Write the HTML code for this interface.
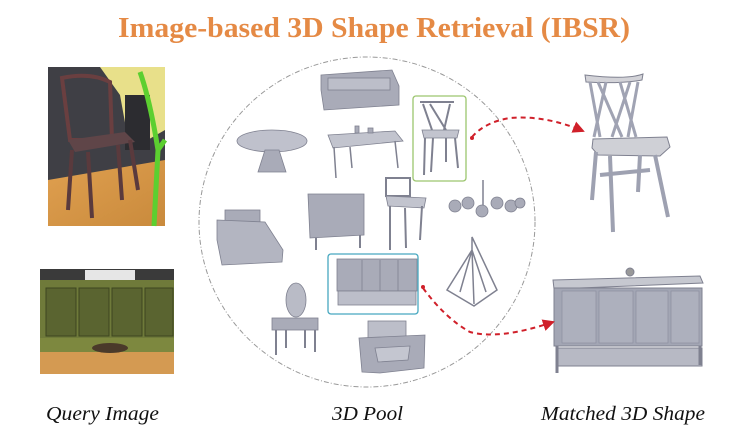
<!DOCTYPE html>
<html><head><meta charset="utf-8"><style>
html,body{margin:0;padding:0;background:#fff;width:750px;height:436px;overflow:hidden}
svg{display:block}
</style></head><body>
<svg width="750" height="436" viewBox="0 0 750 436">
<defs>
<linearGradient id="floor" x1="0" y1="0" x2="1" y2="1"><stop offset="0" stop-color="#e0a050"/><stop offset="1" stop-color="#c98a3c"/></linearGradient>
<marker id="ah" markerWidth="6" markerHeight="6" refX="5" refY="3" orient="auto"><path d="M0,0 L6,3 L0,6z" fill="#d0202a"/></marker>
</defs>
<text x="374" y="37" text-anchor="middle" font-family="Liberation Serif, serif" font-weight="bold" font-size="29" fill="#e58a45" textLength="512" lengthAdjust="spacingAndGlyphs">Image-based 3D Shape Retrieval (IBSR)</text>

<g>
<rect x="48" y="67" width="117" height="159" fill="#3f3f45"/>
<polygon points="48,180 165,160 165,226 48,226" fill="url(#floor)"/>
<polygon points="100,67 165,67 165,130 130,150 120,95" fill="#e8e08a"/>
<rect x="125" y="95" width="25" height="55" fill="#2c2c30"/>
<path d="M62,78 Q90,72 110,82 L112,140 L70,140 Z" fill="none" stroke="#6a3f40" stroke-width="4"/>
<polygon points="68,140 125,132 135,142 75,152" fill="#5f4548"/>
<path d="M72,150 L68,210 M118,145 L122,200 M88,152 L92,218 M130,140 L138,190" stroke="#5a3a3d" stroke-width="4"/>
<path d="M140,72 Q150,100 158,150 L154,226 M158,150 L165,140" stroke="#5ccf30" stroke-width="5" fill="none"/>
</g>
<g>
<rect x="40" y="269" width="134" height="105" fill="#3a3a3a"/>
<rect x="40" y="343" width="134" height="31" fill="#d49a52"/>
<rect x="85" y="270" width="50" height="12" fill="#e6e6e6"/>
<rect x="40" y="280" width="134" height="70" fill="#6f7a3a"/>
<g stroke="#3d4520" stroke-width="1">
<rect x="46" y="288" width="30" height="48" fill="#5a6430"/><rect x="79" y="288" width="30" height="48" fill="#5a6430"/><rect x="112" y="288" width="30" height="48" fill="#5a6430"/><rect x="145" y="288" width="28" height="48" fill="#5a6430"/>
</g>
<rect x="40" y="338" width="134" height="14" fill="#7d883f"/>
<ellipse cx="110" cy="348" rx="18" ry="5" fill="#4a3a2a"/>
</g>

<ellipse cx="367" cy="222" rx="168" ry="165" fill="none" stroke="#999" stroke-width="1" stroke-dasharray="5,2,1,2"/>

<g fill="#a9abb8" stroke="#7f8190" stroke-width="0.8">
<g><polygon points="321,75 392,70 399,86 399,105 324,110 321,90"/><rect x="328" y="78" width="62" height="12" fill="#bcbec9"/></g>
<g><ellipse cx="272" cy="141" rx="35" ry="11" fill="#bfc1cc"/><polygon points="265,150 279,150 286,172 258,172"/></g>
<g><polygon points="328,135 395,131 403,141 333,148" fill="#c2c4ce"/><path d="M334,147 L336,178 M395,141 L398,168 M350,147 L352,168" stroke-width="1.5"/><rect x="355" y="126" width="4" height="7"/><rect x="368" y="128" width="5" height="5"/></g>
<g><path d="M420,102 L454,102 M423,104 L432,130 M450,104 L444,130 M430,104 L446,130" fill="none" stroke-width="2"/><polygon points="422,130 459,130 457,138 424,138" fill="#c2c4ce"/><path d="M425,138 L424,175 M455,138 L458,168 M433,138 L431,172 M446,138 L446,162" stroke-width="2"/></g>
<g><rect x="225" y="210" width="35" height="12"/><polygon points="217,220 265,222 283,250 282,262 222,265 217,240" fill="#b3b5c1"/></g>
<g><polygon points="308,194 364,194 364,235 310,238"/><path d="M316,238 L316,250 M360,235 L360,248" stroke-width="2"/></g>
<g><rect x="386" y="178" width="24" height="18" fill="none" stroke-width="2"/><polygon points="386,196 426,198 424,208 388,206" fill="#c2c4ce"/><path d="M390,206 L390,250 M422,206 L420,240 M405,208 L406,248" stroke-width="2"/></g>
<g><path d="M483,180 L483,205" stroke-width="1.5"/><circle cx="455" cy="206" r="6"/><circle cx="468" cy="203" r="6"/><circle cx="482" cy="211" r="6"/><circle cx="497" cy="203" r="6"/><circle cx="511" cy="206" r="6"/><circle cx="520" cy="203" r="5"/></g>
<g fill="none"><path d="M472,237 L472,250 L447,290 L474,306 L497,290 Z M472,250 L460,292 M472,250 L486,292 M472,250 L474,304" stroke-width="1.5"/></g>
<g><rect x="337" y="259" width="80" height="32"/><rect x="338" y="291" width="78" height="14" fill="#bcbec9"/><path d="M362,260 L362,291 M380,260 L380,291 M398,260 L398,291" stroke-width="0.8"/></g>
<g><ellipse cx="296" cy="300" rx="10" ry="17" fill="#b9bbc6"/><rect x="272" y="318" width="46" height="12"/><path d="M276,330 L276,355 M315,330 L315,352 M286,330 L286,348 M305,330 L305,348" stroke-width="2"/></g>
<g><rect x="368" y="321" width="38" height="26" fill="#bcbec9"/><polygon points="359,338 425,335 424,368 380,373 362,372"/><polygon points="375,348 410,346 408,360 378,362" fill="#c4c6d0"/></g>
</g>

<rect x="413" y="96" width="53" height="85" rx="3" fill="none" stroke="#9cc56e" stroke-width="1.3"/>
<rect x="328" y="254" width="90" height="60" rx="3" fill="none" stroke="#47a8c0" stroke-width="1.3"/>

<g stroke="#7f8190" stroke-width="1" fill="#a9abb8">
<path d="M585,75 Q627,80 643,74 L642,80 Q620,84 586,82 Z" fill="#d3d3d8"/>
<path d="M590,82 L600,137 M598,82 L622,137 M606,82 L594,137 M620,82 L636,137 M630,82 L612,137 M638,82 L628,137" stroke="#a0a3b3" stroke-width="3" fill="none"/>
<polygon points="593,139 667,137 670,147 660,156 598,155 592,148" fill="#cfd0d6"/>
<path d="M610,156 L613,232 M655,155 L668,217 M596,152 L592,200 M640,155 L638,192 M600,175 L650,170" stroke="#9ea1b1" stroke-width="4" fill="none"/>
</g>
<g stroke="#7f8190" stroke-width="1">
<polygon points="553,280 700,276 703,283 554,289" fill="#c6c8d0"/>
<rect x="554" y="288" width="148" height="58" fill="#a3a6b4"/>
<g stroke="#8c8fa0" stroke-width="0.7"><rect x="562" y="291" width="34" height="52" fill="#adb0bd"/><rect x="599" y="291" width="34" height="52" fill="#adb0bd"/><rect x="636" y="291" width="32" height="52" fill="#adb0bd"/><rect x="671" y="291" width="28" height="52" fill="#adb0bd"/></g>
<rect x="556" y="348" width="146" height="18" fill="#b7b9c4"/>
<path d="M557,346 L557,373 M700,346 L700,365" stroke-width="3"/>
<circle cx="630" cy="272" r="4" fill="#999"/>
</g>

<path d="M472,137 Q485,122 510,118 Q545,115 583,131" fill="none" stroke="#d0202a" stroke-width="2" stroke-dasharray="5,4" marker-end="url(#ah)"/>
<circle cx="472" cy="138" r="2" fill="#d0202a"/>
<path d="M423,288 Q445,318 470,332 Q500,340 553,322" fill="none" stroke="#d0202a" stroke-width="2" stroke-dasharray="5,4" marker-end="url(#ah)"/>
<circle cx="423" cy="287" r="2" fill="#d0202a"/>

<g font-family="Liberation Serif, serif" font-style="italic" font-size="20" fill="#111">
<text x="46" y="420" textLength="113" lengthAdjust="spacingAndGlyphs">Query Image</text>
<text x="332" y="420" textLength="71" lengthAdjust="spacingAndGlyphs">3D Pool</text>
<text x="541" y="420" textLength="164" lengthAdjust="spacingAndGlyphs">Matched 3D Shape</text>
</g>
</svg>
</body></html>
